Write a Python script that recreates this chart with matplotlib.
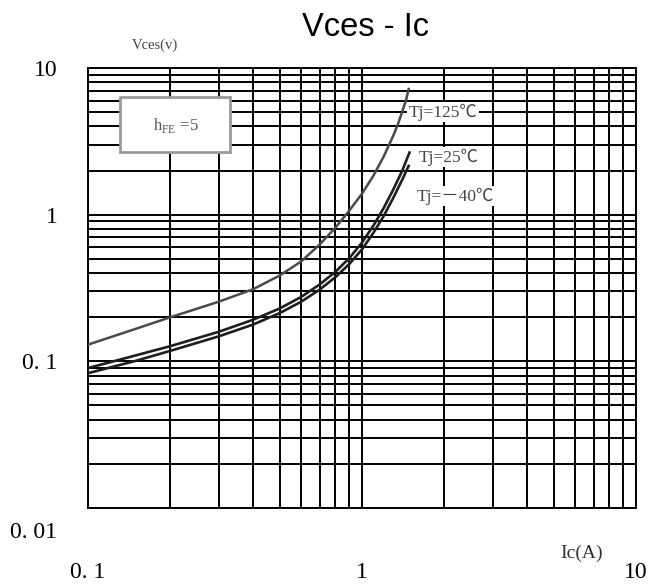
import matplotlib
matplotlib.use("Agg")
import matplotlib.pyplot as plt
import matplotlib.transforms as mtransforms
from matplotlib.patches import Rectangle

# data
ic_125 = [0.1, 0.15, 0.2, 0.3, 0.4, 0.5, 0.6, 0.7, 0.8, 0.9, 1.0, 1.1, 1.2, 1.3, 1.35, 1.4, 1.45, 1.48]
vces_125 = [0.13, 0.167, 0.2, 0.255, 0.31, 0.384, 0.48, 0.625, 0.816, 1.07, 1.39, 1.84, 2.49, 3.45, 4.1, 5.0, 6.1, 7.2]

ic_25 = [0.1, 0.15, 0.2, 0.3, 0.4, 0.5, 0.6, 0.7, 0.8, 0.9, 1.0, 1.1, 1.2, 1.3, 1.4, 1.49]
vces_25 = [0.09, 0.11, 0.127, 0.159, 0.192, 0.229, 0.275, 0.334, 0.408, 0.507, 0.645, 0.84, 1.11, 1.48, 1.98, 2.65]

ic_m40 = [0.1, 0.15, 0.2, 0.3, 0.4, 0.5, 0.6, 0.7, 0.8, 0.9, 1.0, 1.1, 1.2, 1.3, 1.4, 1.48]
vces_m40 = [0.083, 0.101, 0.118, 0.148, 0.178, 0.213, 0.255, 0.308, 0.375, 0.462, 0.58, 0.75, 0.98, 1.3, 1.72, 2.15]

x_ticks = [0.1, 1, 10]
x_labels = ["0. 1", "1", "10"]
y_ticks = [0.01, 0.1, 1, 10]
y_labels = ["0. 01", "0. 1", "1", "10"]

serif = ["Liberation Serif", "Noto Sans CJK SC", "DejaVu Sans"]

fig = plt.figure(figsize=(6.53, 5.86), dpi=100)
ax = fig.add_axes([88/653, 78/586, 548/653, 440/586])
ax.set_xscale("log")
ax.set_yscale("log")
ax.set_xlim(0.1, 10)
ax.set_ylim(0.01, 10)
ax.set_axisbelow(True)

ax.grid(True, which="both", color="black", lw=1.4)
for s in ax.spines.values():
    s.set_color("black")
    s.set_linewidth(1.4)

ax.plot(ic_125, vces_125, color="#4a4a4a", lw=1.8, zorder=3)
ax.plot(ic_25, vces_25, color="#1e1e1e", lw=1.9, zorder=3)
ax.plot(ic_m40, vces_m40, color="#1e1e1e", lw=1.9, zorder=3)

ax.set_xticks(x_ticks)
ax.set_xticklabels(x_labels, family=serif, fontsize=17)
ax.set_yticks(y_ticks)
ax.set_yticklabels(y_labels, family=serif, fontsize=17)
ax.xaxis.set_minor_formatter(plt.NullFormatter())
ax.yaxis.set_minor_formatter(plt.NullFormatter())
ax.tick_params(which="both", length=0)
ax.tick_params(axis="x", pad=39)
ax.tick_params(axis="y", pad=22)

# 0.01 label sits a bit below the bottom line
lab = ax.get_yticklabels()[0]
lab.set_transform(lab.get_transform() + mtransforms.ScaledTranslation(0, -22/100, fig.dpi_scale_trans))

# curve labels
bb = dict(facecolor="white", edgecolor="none", pad=1)
ax.text(0.585, 0.9, "Tj=125℃", transform=ax.transAxes, family=serif, fontsize=12.5,
        color="#444444", va="center", ha="left", bbox=bb, zorder=2)
ax.text(0.603, 0.798, "Tj=25℃", transform=ax.transAxes, family=serif, fontsize=12.5,
        color="#444444", va="center", ha="left", bbox=bb, zorder=2)
ax.text(0.600, 0.709, "Tj=－40℃", transform=ax.transAxes, family=serif, fontsize=12.5,
        color="#444444", va="center", ha="left", bbox=bb, zorder=2)

# hFE box
ax.add_patch(Rectangle((0.058, 0.809), 0.201, 0.125, transform=ax.transAxes,
                       facecolor="white", edgecolor="#9a9a9a", lw=2, zorder=2))
ax.text(0.16, 0.87, r"h$_\mathregular{FE}$ =5", transform=ax.transAxes, family=serif,
        fontsize=12, color="#555555", ha="center", va="center", zorder=2.5)

fig.text(366/653, 1 - 28/586, "Vces - Ic", ha="center", va="center",
         family="Liberation Sans", fontsize=23.5)
fig.text(155/653, 1 - 45/586, "Vces(v)", ha="center", va="center",
         family=serif, fontsize=10.5, color="#444444")
fig.text(582/653, 1 - 553/586, "Ic(A)", ha="center", va="center",
         family=serif, fontsize=14, color="#333333")

fig.savefig("out.png", dpi=100)
